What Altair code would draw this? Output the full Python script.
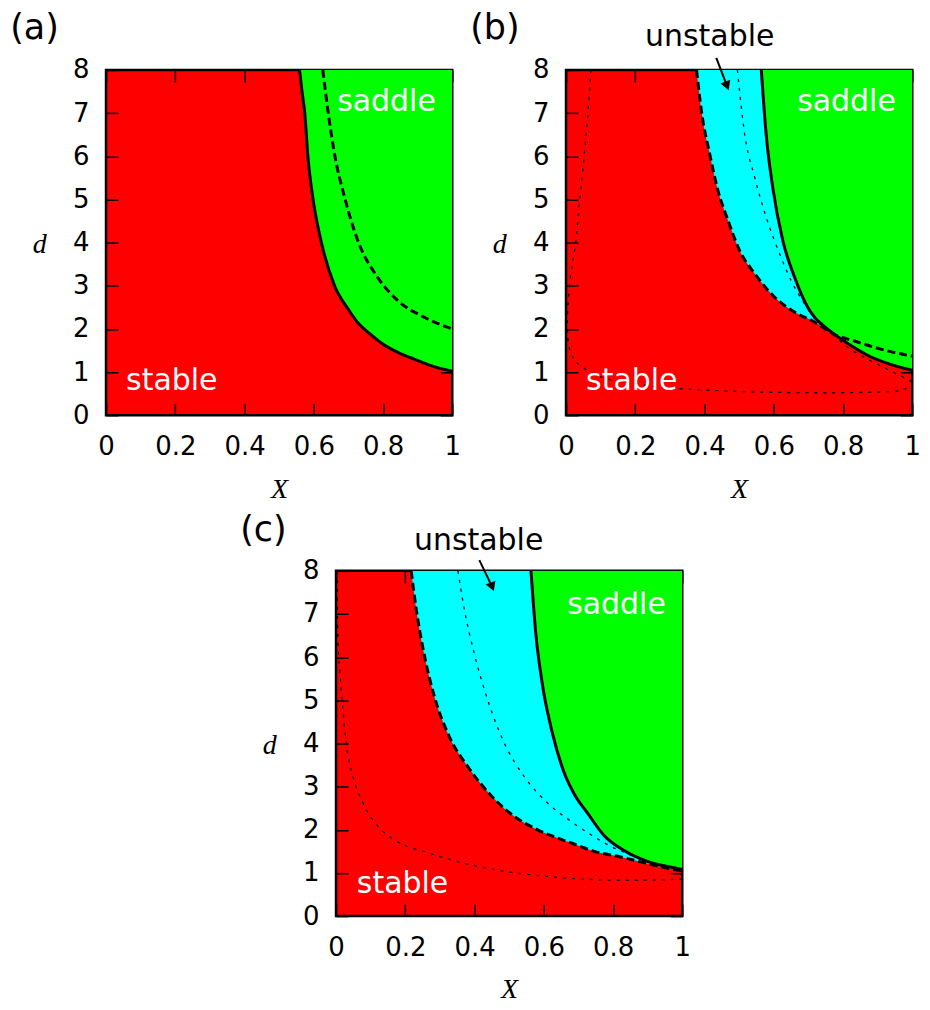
import altair as alt
import pandas as pd

RED = "#ff0000"
GREEN = "#00ff00"
CYAN = "#00ffff"

X_TICKS = [0, 0.2, 0.4, 0.6, 0.8, 1]
D_TICKS = [0, 1, 2, 3, 4, 5, 6, 7, 8]
D_TOP = 8

# ---------------- panel (a) ----------------
a_solid_X = [0.559, 0.566, 0.574, 0.583, 0.598, 0.622, 0.66, 0.70, 0.732, 0.76, 0.794, 0.85, 0.89, 0.95, 1.0]
a_solid_d = [8.0, 7.5, 7.0, 6.0, 5.0, 4.0, 3.0, 2.45, 2.1, 1.9, 1.68, 1.43, 1.3, 1.12, 1.02]
a_dash_X = [0.626, 0.641, 0.66, 0.689, 0.727, 0.784, 0.842, 0.919, 1.0]
a_dash_d = [8.0, 7.05, 6.05, 5.05, 4.05, 3.2, 2.66, 2.27, 2.0]

# ---------------- panel (b) ----------------
b_solid_X = [0.564, 0.578, 0.597, 0.626, 0.660, 0.698, 0.72, 0.74, 0.766, 0.814, 0.871, 0.929, 1.0]
b_solid_d = [8.0, 6.51, 5.28, 4.05, 3.2, 2.5, 2.25, 2.1, 1.93, 1.66, 1.39, 1.2, 1.04]
b_dash_X = [0.377, 0.391, 0.415, 0.439, 0.468, 0.501, 0.545, 0.602, 0.660, 0.718, 0.775, 0.833, 0.9, 0.986, 1.0]
b_dash_d = [8.0, 7.05, 6.05, 5.2, 4.51, 3.82, 3.28, 2.74, 2.39, 2.16, 1.87, 1.72, 1.55, 1.39, 1.37]
b_dot1_X = [0.072, 0.060, 0.048, 0.037, 0.026, 0.014, 0.007, 0.004, 0.007, 0.021, 0.04, 0.079, 0.13, 0.204, 0.314, 0.545, 0.785, 0.939, 0.972, 1.0]
b_dot1_d = [8.0, 6.67, 5.66, 4.74, 3.89, 3.28, 2.66, 2.2, 1.66, 1.31, 1.16, 0.96, 0.82, 0.73, 0.62, 0.54, 0.52, 0.55, 0.6, 0.66]
b_dot2_X = [0.495, 0.516, 0.545, 0.578, 0.617, 0.650, 0.689, 0.722, 0.756, 0.823, 0.871, 0.939, 0.982, 1.0]
b_dot2_d = [8.0, 6.51, 5.51, 4.59, 3.74, 3.12, 2.58, 2.2, 1.97, 1.52, 1.30, 1.02, 0.85, 0.77]

# ---------------- panel (c) ----------------
c_solid_X = [0.563, 0.577, 0.597, 0.625, 0.659, 0.69, 0.726, 0.774, 0.832, 0.899, 0.976, 1.0]
c_solid_d = [8.0, 6.55, 5.32, 4.24, 3.32, 2.8, 2.39, 1.87, 1.52, 1.27, 1.12, 1.08]
c_dash_X = [0.217, 0.232, 0.256, 0.284, 0.327, 0.380, 0.447, 0.50, 0.582, 0.640, 0.678, 0.746, 0.822, 0.899, 0.976, 1.0]
c_dash_d = [8.0, 7.09, 6.01, 5.09, 4.16, 3.47, 2.8, 2.4, 2.0, 1.81, 1.70, 1.50, 1.37, 1.22, 1.08, 1.05]
c_dot1_X = [0.003, 0.005, 0.011, 0.02, 0.031, 0.049, 0.078, 0.121, 0.168, 0.265, 0.457, 0.582, 0.649, 0.841, 0.976, 1.0]
c_dot1_d = [8.0, 6.5, 5.7, 4.78, 3.93, 3.24, 2.62, 2.08, 1.77, 1.47, 1.08, 0.94, 0.89, 0.83, 0.85, 0.86]
c_dot2_X = [0.352, 0.371, 0.399, 0.438, 0.486, 0.543, 0.611, 0.678, 0.735, 0.793, 0.841, 0.9, 1.0]
c_dot2_d = [8.0, 7.09, 6.09, 5.01, 4.01, 3.24, 2.62, 2.2, 1.89, 1.62, 1.45, 1.26, 1.07]

# region labels: text, X, d
a_lab_text = ["saddle", "stable"]
a_lab_X = [0.81, 0.19]
a_lab_d = [7.05, 0.58]
b_lab_text = ["saddle", "stable"]
b_lab_X = [0.81, 0.19]
b_lab_d = [7.05, 0.58]
c_lab_text = ["saddle", "stable"]
c_lab_X = [0.81, 0.192]
c_lab_d = [7.01, 0.54]

# "unstable" annotation + arrow (start X, start d, tip X, tip d)
b_unst = (0.415, 8.55)
b_arrow = (0.434, 8.28, 0.465, 7.63)
c_unst = (0.412, 8.49)
c_arrow = (0.414, 8.25, 0.451, 7.63)

W, H = 347, 346
TICK = 12  # inward tick length (px)

XS = alt.Scale(domain=[0, 1], nice=False, zero=False)
YS = alt.Scale(domain=[0, 8], nice=False, zero=False)

TICK_STYLE = dict(ticks=True, tickSize=TICK, tickWidth=1.5, tickColor="black",
                  offset=-TICK, domain=False, grid=False)

# bottom / left: labels + titles + inward ticks (axis shifted inside by the tick length)
XAXIS_B = alt.Axis(orient="bottom", values=X_TICKS, format="~g", title="X",
                   titleY=82 + TICK, labelPadding=18, **TICK_STYLE)
YAXIS_L = alt.Axis(orient="left", values=D_TICKS, format="d", title="d", titleAngle=0,
                   titleAlign="center", titleX=-67 - TICK, titleY=183, labelPadding=17,
                   **TICK_STYLE)
# top / right: inward ticks only
XAXIS_T = alt.Axis(orient="top", values=X_TICKS, labels=False, title=None, **TICK_STYLE)
YAXIS_R = alt.Axis(orient="right", values=D_TICKS, labels=False, title=None, **TICK_STYLE)


def df(xs, ds):
    return pd.DataFrame({"X": xs, "d": ds, "i": list(range(len(xs))),
                         "top": [D_TOP] * len(xs)})


def xq(axis=None):
    return alt.X("X:Q", scale=XS, axis=axis)


def yq(axis=None):
    return alt.Y("d:Q", scale=YS, axis=axis)


def area(xs, ds, color):
    return alt.Chart(df(xs, ds)).mark_area(fill=color, clip=True, fillOpacity=1,
                                           interpolate="monotone").encode(
        x=xq(), y=yq(), y2="top:Q")


def line(xs, ds, kind, interp="monotone", xaxis=None, yaxis=None):
    if kind == "solid":
        mk = dict(strokeWidth=3)
    elif kind == "dash":
        mk = dict(strokeWidth=3, strokeDash=[8, 4])
    else:
        mk = dict(strokeWidth=1.3, strokeDash=[3, 6])
    return alt.Chart(df(xs, ds)).mark_line(color="black", clip=True, interpolate=interp,
                                           **mk).encode(
        x=xq(xaxis), y=yq(yaxis), order="i:Q")


def labels(texts, xs, ds):
    d = pd.DataFrame({"t": texts, "X": xs, "d": ds})
    return alt.Chart(d).mark_text(font="DejaVu Sans", fontSize=30, color="white",
                                  align="center", baseline="alphabetic").encode(
        x=xq(), y=yq(), text="t:N")


def unstable(pos, arrow):
    t = alt.Chart(pd.DataFrame({"t": ["unstable"], "X": [pos[0]], "d": [pos[1]]})).mark_text(
        font="DejaVu Sans", fontSize=30, color="black", align="center",
        baseline="alphabetic").encode(x=xq(), y=yq(), text="t:N")
    seg = pd.DataFrame({"X": [arrow[0]], "d": [arrow[1]], "X2": [arrow[2]], "d2": [arrow[3]]})
    r = alt.Chart(seg).mark_rule(color="black", strokeWidth=2).encode(
        x=xq(), y=yq(), x2="X2:Q", y2="d2:Q")
    head = alt.Chart(pd.DataFrame({"X": [arrow[2]], "d": [arrow[3]]})).mark_point(
        shape="triangle-down", filled=True, color="black", size=110, angle=339,
        opacity=1).encode(x=xq(), y=yq())
    return [t, r, head]


def title(txt, dy):
    return alt.TitleParams(txt, anchor="start", frame="group", dx=-96, dy=dy,
                           font="DejaVu Sans", fontSize=35, fontWeight="normal",
                           color="black", offset=0, baseline="alphabetic")


def panel(layers, ttl):
    return alt.layer(*layers).resolve_axis(x="independent", y="independent").properties(
        width=W, height=H, title=ttl)


pa = panel([
    area(a_solid_X, a_solid_d, GREEN),
    line(a_dash_X, a_dash_d, "dash", xaxis=XAXIS_T, yaxis=YAXIS_R),
    line(a_solid_X, a_solid_d, "solid", xaxis=XAXIS_B, yaxis=YAXIS_L),
    labels(a_lab_text, a_lab_X, a_lab_d),
], title("(a)", 17))

pb = panel([
    area(b_dash_X, b_dash_d, CYAN),
    area(b_solid_X, b_solid_d, GREEN),
    line(b_dot1_X, b_dot1_d, "dot", interp="cardinal"),
    line(b_dot2_X, b_dot2_d, "dot"),
    line(b_dash_X, b_dash_d, "dash", xaxis=XAXIS_T, yaxis=YAXIS_R),
    line(b_solid_X, b_solid_d, "solid", xaxis=XAXIS_B, yaxis=YAXIS_L),
    labels(b_lab_text, b_lab_X, b_lab_d),
    *unstable(b_unst, b_arrow),
], title("(b)", 52))

pc = panel([
    area(c_dash_X, c_dash_d, CYAN),
    area(c_solid_X, c_solid_d, GREEN),
    line(c_dot1_X, c_dot1_d, "dot"),
    line(c_dot2_X, c_dot2_d, "dot"),
    line(c_dash_X, c_dash_d, "dash", xaxis=XAXIS_T, yaxis=YAXIS_R),
    line(c_solid_X, c_solid_d, "solid", xaxis=XAXIS_B, yaxis=YAXIS_L),
    labels(c_lab_text, c_lab_X, c_lab_d),
    *unstable(c_unst, c_arrow),
], title("(c)", 50))

top = alt.hconcat(pa, pb, spacing=6)
chart = alt.vconcat(top, pc, spacing=6, center=True).properties(
    padding={"left": 0, "top": 0, "right": 0, "bottom": 0}, background="white"
).configure_view(
    fill=RED, stroke="black", strokeWidth=2.5
).configure_axis(
    labelFont="DejaVu Sans", labelFontSize=26, labelColor="black",
    labelFlush=False, labelOverlap=False, zindex=1,
    titleFont="Liberation Serif", titleFontStyle="italic", titleFontWeight="normal",
    titleFontSize=28, titleColor="black", titleBaseline="alphabetic"
)

chart.save("out.html", embed_options={"renderer": "svg", "actions": False})
